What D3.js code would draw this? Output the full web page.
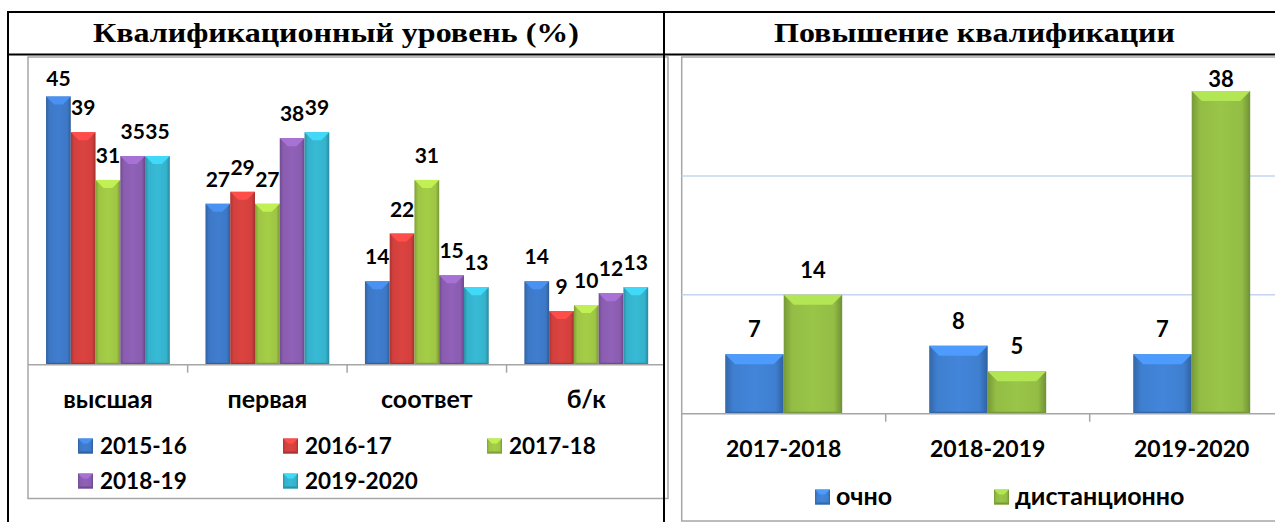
<!DOCTYPE html>
<html><head><meta charset="utf-8">
<script src="https://cdn.jsdelivr.net/npm/d3@7"></script>
<style>body{margin:0;background:#fff}svg{display:block}</style>
</head><body>
<svg id="chart" width="1275" height="522"></svg>
<script>
// ---- data ----
const levelTitle = "Квалификационный уровень (%)";
const levelCategories = ["высшая", "первая", "соответ", "б/к"];
const levelSeries = ["2015-16", "2016-17", "2017-18", "2018-19", "2019-2020"];
const levelValues = [
  [45, 27, 14, 14],
  [39, 29, 22, 9],
  [31, 27, 31, 10],
  [35, 38, 15, 12],
  [35, 39, 13, 13]
];
const levelDomain = [0, 50];

const trainingTitle = "Повышение квалификации";
const trainingCategories = ["2017-2018", "2018-2019", "2019-2020"];
const trainingSeries = ["очно", "дистанционно"];
const trainingValues = [
  [7, 8, 7],
  [14, 5, 38]
];
const trainingTicks = [0, 14, 28, 42];

// ---- styles ----
const levelColors = ["#3d78c6", "#d2403d", "#9ec544", "#8a5db0", "#35b2cc"];
const trainingColors = ["#3f7fd0", "#93bd45"];
const SANS = 'Lato, "Noto Sans", sans-serif';
const SERIF = '"Liberation Serif", "Times New Roman", serif';

const svg = d3.select("#chart");
const defs = svg.append("defs");

function gradFor(id, base) {
  const c = d3.color(base);
  const g = defs.append("linearGradient").attr("id", id).attr("x1", 0).attr("x2", 1).attr("y1", 0).attr("y2", 0);
  g.append("stop").attr("offset", "0%").attr("stop-color", c.darker(0.6));
  g.append("stop").attr("offset", "14%").attr("stop-color", c);
  g.append("stop").attr("offset", "50%").attr("stop-color", c.brighter(0.12));
  g.append("stop").attr("offset", "86%").attr("stop-color", c);
  g.append("stop").attr("offset", "100%").attr("stop-color", c.darker(0.75));
  return "url(#" + id + ")";
}

function bevelBar(g, x, y, w, h, base, gradId, depth) {
  g.append("rect").attr("x", x).attr("y", y).attr("width", w).attr("height", h)
    .attr("fill", "url(#" + gradId + ")");
  const b = Math.min(depth, w / 2 - 1, h / 2);
  g.append("path")
    .attr("d", `M${x},${y}L${x + w},${y}L${x + w - b},${y + b}L${x + b},${y + b}Z`)
    .attr("fill", d3.color(base).brighter(0.55));
  g.append("path")
    .attr("d", `M${x},${y + h}L${x + w},${y + h}L${x + w - 2},${y + h - 2}L${x + 2},${y + h - 2}Z`)
    .attr("fill", d3.color(base).darker(0.6));
}

levelColors.forEach((c, i) => gradFor("lg" + i, c));
trainingColors.forEach((c, i) => gradFor("tg" + i, c));

// ---- LEFT CHART ----
const L = { left: 28, top: 57, right: 664, bottom: 498.5, plotL: 28.2, plotR: 666, base: 364.7, ytop: 66.7 };
const leftG = svg.append("g");
leftG.append("rect").attr("x", L.left).attr("y", L.top).attr("width", L.right - L.left + 4).attr("height", L.bottom - L.top)
  .attr("fill", "#fff").attr("stroke", "#a6a6a6").attr("stroke-width", 1.5);

const lx0 = d3.scaleBand().domain(levelCategories).range([L.plotL, L.plotR]).paddingInner(0).paddingOuter(0);
const lx1 = d3.scaleBand().domain(levelSeries).range([0, lx0.bandwidth()]).paddingInner(0).paddingOuter(0.72);
const ly = d3.scaleLinear().domain(levelDomain).range([L.base, L.ytop]);

const lbars = leftG.append("g");
levelSeries.forEach((s, si) => {
  levelCategories.forEach((cat, ci) => {
    const v = levelValues[si][ci];
    const x = lx0(cat) + lx1(s), w = lx1.bandwidth(), y = ly(v);
    bevelBar(lbars, x, y, w, L.base - y, levelColors[si], "lg" + si, 8);
  });
});
const llabels = leftG.append("g").attr("font-family", SANS).attr("font-weight", 700).attr("font-size", 21)
  .attr("text-anchor", "middle").attr("fill", "#000");
levelSeries.forEach((s, si) => {
  levelCategories.forEach((cat, ci) => {
    const v = levelValues[si][ci];
    llabels.append("text")
      .attr("x", lx0(cat) + lx1(s) + lx1.bandwidth() / 2)
      .attr("y", Math.max(ly(v) - 17, L.top + 29))
      .text(v);
  });
});
leftG.append("line").attr("x1", L.left).attr("x2", L.right).attr("y1", L.base).attr("y2", L.base)
  .attr("stroke", "#a6a6a6").attr("stroke-width", 1.5);
leftG.selectAll(".ltick").data(levelCategories.slice(1)).join("line")
  .attr("x1", d => lx0(d)).attr("x2", d => lx0(d)).attr("y1", L.base).attr("y2", L.base + 8)
  .attr("stroke", "#a6a6a6").attr("stroke-width", 1.5);
leftG.selectAll(".lcat").data(levelCategories).join("text")
  .attr("x", d => lx0(d) + lx0.bandwidth() / 2).attr("y", 408)
  .attr("text-anchor", "middle").attr("font-family", SANS).attr("font-weight", 700).attr("font-size", 25)
  .text(d => d);
// legend
const lLegCols = [78, 283, 487], lLegRows = [446, 481];
levelSeries.forEach((s, i) => {
  const col = i % 3, row = Math.floor(i / 3);
  const gx = lLegCols[col], gy = lLegRows[row];
  const g = leftG.append("g");
  bevelBar(g, gx, gy - 7.5, 15, 15, levelColors[i], "lg" + i, 5);
  g.append("text").attr("x", gx + 22).attr("y", gy + 8).attr("font-family", SANS).attr("font-weight", 700)
    .attr("font-size", 22.5).text(s);
});

// ---- RIGHT CHART ----
const R = { left: 681.7, top: 57, right: 1290, bottom: 521, plotL: 681.7, plotR: 1293.7, base: 413.7 };
const rightG = svg.append("g");
rightG.append("rect").attr("x", R.left).attr("y", R.top).attr("width", R.right - R.left).attr("height", R.bottom - R.top)
  .attr("fill", "#fff").attr("stroke", "#a6a6a6").attr("stroke-width", 1.5);
const rx0 = d3.scaleBand().domain(trainingCategories).range([R.plotL, R.plotR]);
const rx1 = d3.scaleBand().domain(trainingSeries).range([0, rx0.bandwidth()]).paddingOuter(0.744);
const ry = d3.scaleLinear().domain([0, d3.max(trainingTicks)]).range([R.base, R.top]);
rightG.selectAll(".grid").data(trainingTicks.filter(t => t > 0 && t < d3.max(trainingTicks))).join("line")
  .attr("x1", R.left).attr("x2", R.right).attr("y1", d => ry(d)).attr("y2", d => ry(d))
  .attr("stroke", "#c5d4ee").attr("stroke-width", 1.5);
const rbars = rightG.append("g");
trainingSeries.forEach((s, si) => {
  trainingCategories.forEach((cat, ci) => {
    const v = trainingValues[si][ci];
    const x = rx0(cat) + rx1(s), w = rx1.bandwidth(), y = ry(v);
    bevelBar(rbars, x, y, w, R.base - y, trainingColors[si], "tg" + si, 10);
  });
});
const rlabels = rightG.append("g").attr("font-family", SANS).attr("font-weight", 700).attr("font-size", 22)
  .attr("text-anchor", "middle");
trainingSeries.forEach((s, si) => {
  trainingCategories.forEach((cat, ci) => {
    const v = trainingValues[si][ci];
    rlabels.append("text")
      .attr("x", rx0(cat) + rx1(s) + rx1.bandwidth() / 2)
      .attr("y", Math.max(ry(v) - 17, R.top + 30))
      .text(v);
  });
});
rightG.append("line").attr("x1", R.left).attr("x2", R.right).attr("y1", R.base).attr("y2", R.base)
  .attr("stroke", "#a6a6a6").attr("stroke-width", 1.5);
rightG.selectAll(".rtick").data(trainingCategories.slice(1)).join("line")
  .attr("x1", d => rx0(d)).attr("x2", d => rx0(d)).attr("y1", R.base).attr("y2", R.base + 8)
  .attr("stroke", "#a6a6a6").attr("stroke-width", 1.5);
rightG.selectAll(".rcat").data(trainingCategories).join("text")
  .attr("x", d => rx0(d) + rx0.bandwidth() / 2).attr("y", 457)
  .attr("text-anchor", "middle").attr("font-family", SANS).attr("font-weight", 700).attr("font-size", 23)
  .text(d => d);
const rLegX = [815, 994];
trainingSeries.forEach((s, i) => {
  const g = rightG.append("g");
  bevelBar(g, rLegX[i], 489.5, 15, 15, trainingColors[i], "tg" + i, 5);
  g.append("text").attr("x", rLegX[i] + 21).attr("y", 505).attr("font-family", SANS).attr("font-weight", 700)
    .attr("font-size", 25).text(s);
});

// ---- table lines & titles (on top) ----
const frameG = svg.append("g");
frameG.append("line").attr("x1", 7).attr("x2", 1275).attr("y1", 12).attr("y2", 12).attr("stroke", "#000").attr("stroke-width", 2);
frameG.append("line").attr("x1", 7).attr("x2", 1275).attr("y1", 54.5).attr("y2", 54.5).attr("stroke", "#000").attr("stroke-width", 2);
frameG.append("line").attr("x1", 8).attr("x2", 8).attr("y1", 11).attr("y2", 522).attr("stroke", "#000").attr("stroke-width", 2);
frameG.append("line").attr("x1", 664).attr("x2", 664).attr("y1", 11).attr("y2", 522).attr("stroke", "#000").attr("stroke-width", 2);
frameG.append("text").attr("x", 336).attr("y", 42).attr("text-anchor", "middle").attr("font-family", SERIF)
  .attr("font-weight", 700).attr("font-size", 27)
  .attr("textLength", 486).attr("lengthAdjust", "spacingAndGlyphs").text(levelTitle);
frameG.append("text").attr("x", 974.5).attr("y", 42).attr("text-anchor", "middle").attr("font-family", SERIF)
  .attr("font-weight", 700).attr("font-size", 27)
  .attr("textLength", 401).attr("lengthAdjust", "spacingAndGlyphs").text(trainingTitle);
</script>
</body></html>
